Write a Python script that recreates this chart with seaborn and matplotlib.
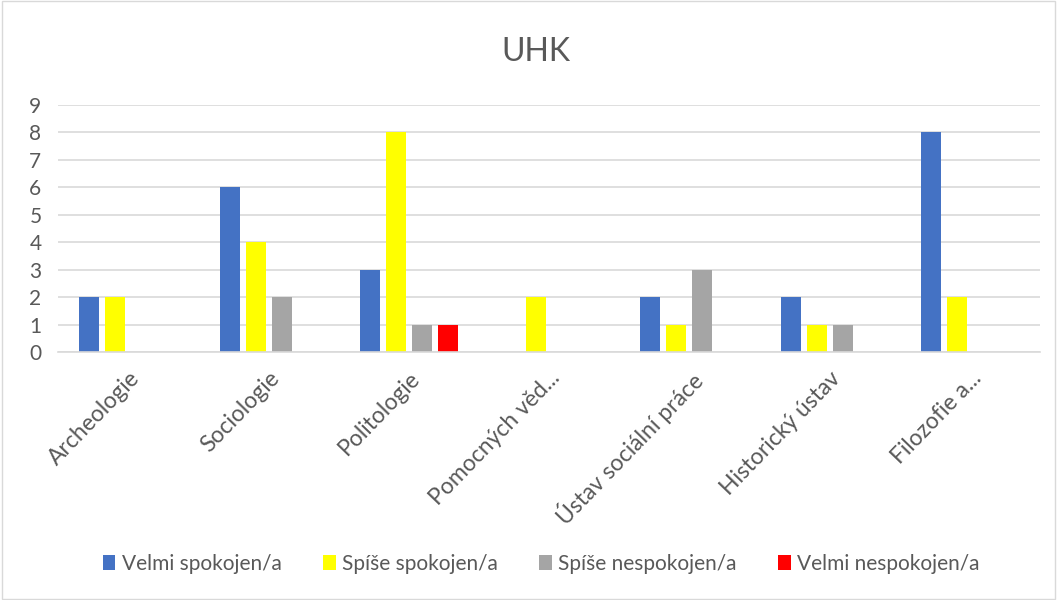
import pandas as pd
import matplotlib
matplotlib.use("Agg")
import matplotlib.pyplot as plt
import seaborn as sns

categories = ["Archeologie", "Sociologie", "Politologie", "Pomocných věd...",
              "Ústav sociální práce", "Historický ústav", "Filozofie a..."]
series_names = ["Velmi spokojen/a", "Spíše spokojen/a", "Spíše nespokojen/a", "Velmi nespokojen/a"]
velmi_spokojen = [2, 6, 3, 0, 2, 2, 8]
spise_spokojen = [2, 4, 8, 2, 1, 1, 2]
spise_nespokojen = [0, 2, 1, 0, 3, 1, 0]
velmi_nespokojen = [0, 0, 1, 0, 0, 0, 0]
colors = ["#4472C4", "#FFFF00", "#A5A5A5", "#FF0000"]

rows = []
for name, vals in zip(series_names, [velmi_spokojen, spise_spokojen, spise_nespokojen, velmi_nespokojen]):
    for cat, v in zip(categories, vals):
        rows.append({"kategorie": cat, "hodnoceni": name, "pocet": v})
df = pd.DataFrame(rows)

sns.set_theme(style="white")
plt.rcParams["font.family"] = ["Lato", "DejaVu Sans"]
text_color = "#595959"

fig = plt.figure(figsize=(10.57, 6), dpi=100)
ax = fig.add_axes([0.055, 0.413, 0.929, 0.412])

sns.barplot(data=df, x="kategorie", y="pocet", hue="hodnoceni", order=categories,
            hue_order=series_names, palette=colors, width=0.74, gap=0.23,
            saturation=1, linewidth=0, ax=ax, legend=True)

ax.set_ylim(0, 9)
ax.set_yticks(range(0, 10))
ax.set_xlim(-0.5, len(categories) - 0.5)
ax.yaxis.grid(True, color="#D9D9D9", linewidth=1.2)
ax.set_axisbelow(True)
for s in ["left", "right", "top"]:
    ax.spines[s].set_visible(False)
ax.spines["bottom"].set_color("#D9D9D9")
ax.spines["bottom"].set_linewidth(1.2)
ax.tick_params(axis="both", length=0, colors=text_color)
ax.tick_params(axis="x", labelsize=16.5, pad=11)
ax.tick_params(axis="y", labelsize=15, pad=12)
ax.set_xticks(range(len(categories)))
ax.set_xticklabels(categories, rotation=46, ha="right", rotation_mode="anchor")
ax.set_xlabel("")
ax.set_ylabel("")

fig.text(0.507, 0.913, "UHK", ha="center", va="center", fontsize=23, color=text_color)

handles, labels = ax.get_legend_handles_labels()
ax.get_legend().remove()
fig.legend(handles, labels, loc="center", bbox_to_anchor=(0.512, 0.06), ncol=4,
           frameon=False, fontsize=15, handlelength=0.6, handleheight=0.75,
           handletextpad=0.3, columnspacing=2.0, labelcolor=text_color)

fig.patches.append(plt.Rectangle((0.002, 0.002), 0.996, 0.996, transform=fig.transFigure,
                                 fill=False, edgecolor="#D9D9D9", linewidth=1))

fig.savefig("out.png", dpi=100)
